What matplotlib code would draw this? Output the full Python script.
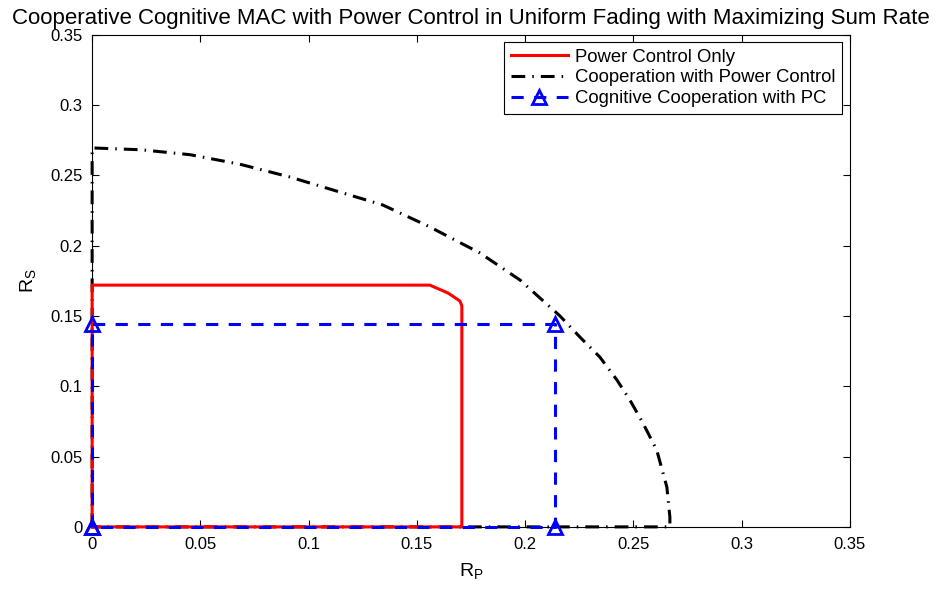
import numpy as np
import matplotlib
matplotlib.use('Agg')
import matplotlib.pyplot as plt

plt.rcParams['font.family'] = ['Liberation Sans', 'DejaVu Sans']

# Power control only region
pc_rp = [0, 0, 0.156, 0.1644, 0.1699, 0.1708, 0.1708, 0]
pc_rs = [0, 0.172, 0.172, 0.1664, 0.1607, 0.1572, 0, 0]

# Cooperation with power control region
coop_rp = [0, 0, 0.0226, 0.0452, 0.0683, 0.0914, 0.1343, 0.1560, 0.1791, 0.1976, 0.2161,
           0.2253, 0.2345, 0.2424, 0.2484, 0.2544, 0.2608, 0.2655, 0.2669, 0.2669, 0]
coop_rs = [0, 0.2696, 0.2683, 0.2648, 0.2580, 0.2489, 0.2290, 0.2134, 0.1949, 0.1757, 0.1501,
           0.1351, 0.1209, 0.1046, 0.0903, 0.0740, 0.0548, 0.0284, 0.0071, 0, 0]

# Cognitive cooperation with PC
cog_rp = [0, 0, 0.2138, 0.2138, 0]
cog_rs = [0, 0.1440, 0.1440, 0, 0]

ticks = [0, 0.05, 0.1, 0.15, 0.2, 0.25, 0.3, 0.35]
tick_labels = ['0', '0.05', '0.1', '0.15', '0.2', '0.25', '0.3', '0.35']

fig = plt.figure(figsize=(9.4, 5.92), dpi=100)
ax = fig.add_axes([0.098, 0.110, 0.806, 0.831])

ax.plot(coop_rp, coop_rs, color='k', lw=2.2, linestyle=(0, (4.5, 2.3, 0.5, 2.3)),
        label='Cooperation with Power Control', zorder=2, clip_on=False)
ax.plot(pc_rp, pc_rs, color='red', lw=2.2, label='Power Control Only', zorder=3,
        clip_on=False)
ax.plot(cog_rp, cog_rs, color='blue', lw=2.2, linestyle=(0, (4.0, 3.4)),
        marker='^', markersize=9.5, markerfacecolor='none', markeredgewidth=2,
        label='Cognitive Cooperation with PC', zorder=4, clip_on=False)

ax.set_xlim(0, 0.35)
ax.set_ylim(0, 0.35)
ax.set_xticks(ticks)
ax.set_yticks(ticks)
ax.set_xticklabels(tick_labels)
ax.set_yticklabels(tick_labels)
ax.tick_params(direction='in', top=True, right=True, labelsize=12, length=5)
ax.tick_params(axis='x', pad=7)
ax.tick_params(axis='y', pad=7)
ax.set_xlabel('R$_\\mathregular{P}$', fontsize=14, labelpad=7)
ax.set_ylabel('R$_\\mathregular{S}$', fontsize=14, labelpad=8)
ax.set_title('Cooperative Cognitive MAC with Power Control in Uniform Fading with Maximizing Sum Rate',
             fontsize=16, pad=8)

h, l = ax.get_legend_handles_labels()
order = [1, 0, 2]
leg = ax.legend([h[i] for i in order], [l[i] for i in order], loc='upper right',
                fontsize=13.3, fancybox=False, edgecolor='k', framealpha=1,
                borderpad=0.35, labelspacing=0.2, handlelength=3.1, handletextpad=0.4,
                borderaxespad=0.4)
leg.get_frame().set_linewidth(0.8)

fig.savefig('out.png', dpi=100)
